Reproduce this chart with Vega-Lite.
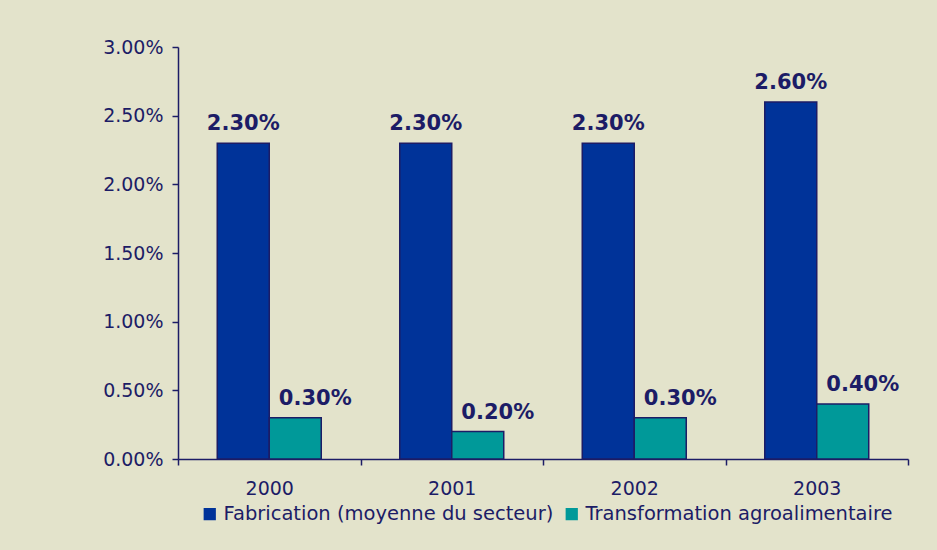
{
  "$schema": "https://vega.github.io/schema/vega-lite/v6.json",
  "width": 730,
  "height": 412,
  "autosize": {"type": "none"},
  "padding": {"left": 178, "top": 47, "right": 29, "bottom": 91},
  "background": "#E3E3CB",
  "data": {
    "values": [
      {"year": "2000", "series": "Fabrication (moyenne du secteur)", "value": 0.023},
      {"year": "2000", "series": "Transformation agroalimentaire", "value": 0.003},
      {"year": "2001", "series": "Fabrication (moyenne du secteur)", "value": 0.023},
      {"year": "2001", "series": "Transformation agroalimentaire", "value": 0.002},
      {"year": "2002", "series": "Fabrication (moyenne du secteur)", "value": 0.023},
      {"year": "2002", "series": "Transformation agroalimentaire", "value": 0.003},
      {"year": "2003", "series": "Fabrication (moyenne du secteur)", "value": 0.026},
      {"year": "2003", "series": "Transformation agroalimentaire", "value": 0.004}
    ]
  },
  "encoding": {
    "x": {
      "field": "year",
      "type": "nominal",
      "scale": {"paddingInner": 0, "paddingOuter": 0},
      "axis": {
        "title": null,
        "labelAngle": 0,
        "tickBand": "extent",
        "tickSize": 6,
        "labelPadding": 14,
        "domainColor": "#1C1C66",
        "tickColor": "#1C1C66",
        "domainWidth": 1.5,
        "tickWidth": 1.5,
        "labelColor": "#1C1C66",
        "labelFont": "DejaVu Sans",
        "labelFontSize": 19
      }
    },
    "y": {
      "field": "value",
      "type": "quantitative",
      "scale": {"domain": [0, 0.03]},
      "axis": {
        "title": null,
        "values": [0, 0.005, 0.01, 0.015, 0.02, 0.025, 0.03],
        "format": ".2%",
        "grid": false,
        "tickSize": 6,
        "labelPadding": 9,
        "domainColor": "#1C1C66",
        "tickColor": "#1C1C66",
        "domainWidth": 1.5,
        "tickWidth": 1.5,
        "labelColor": "#1C1C66",
        "labelFont": "DejaVu Sans",
        "labelFontSize": 19
      }
    },
    "xOffset": {
      "field": "series",
      "type": "nominal",
      "sort": ["Fabrication (moyenne du secteur)", "Transformation agroalimentaire"],
      "scale": {"paddingInner": 0, "paddingOuter": 0.755}
    }
  },
  "layer": [
    {
      "mark": {"type": "bar", "stroke": "#1C1C66", "strokeWidth": 1.5},
      "encoding": {
        "color": {
          "field": "series",
          "type": "nominal",
          "sort": ["Fabrication (moyenne du secteur)", "Transformation agroalimentaire"],
          "scale": {"range": ["#003399", "#009999"]},
          "legend": {
            "title": null,
            "orient": "none",
            "direction": "horizontal",
            "legendX": 22,
            "legendY": 457,
            "symbolType": "square",
            "symbolSize": 150,
            "symbolStrokeWidth": 0,
            "labelFont": "DejaVu Sans",
            "labelFontSize": 19.5,
            "labelColor": "#1C1C66",
            "labelOffset": 4,
            "columnPadding": 8,
            "labelLimit": 500
          }
        }
      }
    },
    {
      "transform": [{"filter": "datum.series == 'Fabrication (moyenne du secteur)'"}],
      "mark": {"type": "text", "baseline": "alphabetic", "dy": -13, "font": "DejaVu Sans", "fontSize": 21, "fontWeight": "bold", "color": "#1C1C66"},
      "encoding": {"text": {"field": "value", "type": "quantitative", "format": ".2%"}}
    },
    {
      "transform": [{"filter": "datum.series == 'Transformation agroalimentaire'"}],
      "mark": {"type": "text", "baseline": "alphabetic", "dy": -13, "dx": 20, "font": "DejaVu Sans", "fontSize": 21, "fontWeight": "bold", "color": "#1C1C66"},
      "encoding": {"text": {"field": "value", "type": "quantitative", "format": ".2%"}}
    }
  ],
  "config": {"view": {"stroke": null}}
}
